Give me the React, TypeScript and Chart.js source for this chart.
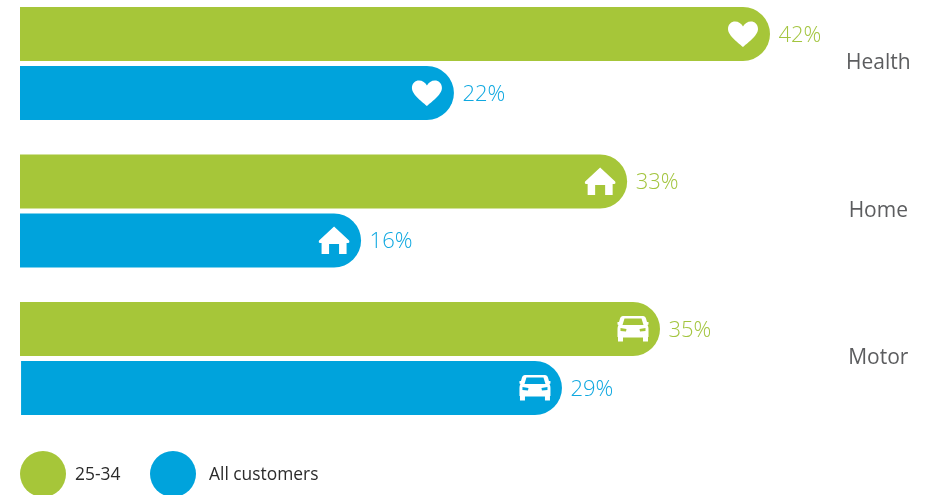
import React, { useEffect, useRef } from "react";
import { Chart, registerables } from "chart.js";

Chart.register(...registerables);

const categories = ["Health", "Home", "Motor"];
const shownYoung = ["42%", "33%", "35%"];
const shownAll = ["22%", "16%", "29%"];
// Drawn bar lengths (the infographic is not strictly to scale)
const youngLengths = [42, 34, 35.84];
const allLengths = [24.3, 19.1, 30.35];
const allStarts = [0, 0, 0.06];
const seriesNames = ["25-34", "All customers"];
const GREEN = "#A6C639";
const BLUE = "#00A3DC";
const LABEL_GREEN = "#A3C53F";
const LABEL_BLUE = "#0FA8E0";
const FONT = '"Open Sans", sans-serif';
const SHIFT = 30;

const heart = new Path2D(
  "M0 13 C-3 10 -15 2 -15 -5 C-15 -10 -11.5 -12.5 -8 -12.5 C-4.5 -12.5 -1.5 -10.5 0 -7.5 C1.5 -10.5 4.5 -12.5 8 -12.5 C11.5 -12.5 15 -10 15 -5 C15 2 3 10 0 13 Z"
);
const house = new Path2D(
  "M0 -14 L15 0 C15.5 1 15.5 2.5 14 2.5 L12.5 2.5 L12.5 13.5 L5 13.5 L5 3.5 L-5 3.5 L-5 13.5 L-12.5 13.5 L-12.5 2.5 L-14 2.5 C-15.5 2.5 -15.5 1 -15 0 Z"
);
const car = new Path2D(
  "M-10 -13 L10 -13 C11.5 -13 12.5 -12 13 -10.5 L14 -7 L15.5 -7 L15.5 -4.5 L14.5 -4 C15.5 -2 15.5 -1 15.5 1 L15.5 8 L15 8 L15 12.5 L10 12.5 L10 8.5 L-10 8.5 L-10 12.5 L-15 12.5 L-15 8 L-15.5 8 L-15.5 1 C-15.5 -1 -15.5 -2 -14.5 -4 L-15.5 -4.5 L-15.5 -7 L-14 -7 L-13 -10.5 C-12.5 -12 -11.5 -13 -10 -13 Z " +
    "M-8.5 -10.5 L-10.5 -4 L10.5 -4 L8.5 -10.5 Z " +
    "M-12.5 -1 L-12.5 2 L-7 2.5 L-6.5 0 Z M12.5 -1 L12.5 2 L7 2.5 L6.5 0 Z"
);
const icons = [heart, house, car];

const overlayPlugin = {
  id: "overlay",
  afterDatasetsDraw(chart: any) {
    const ctx = chart.ctx;
    ctx.save();
    const shown = [shownYoung, shownAll];
    const colors = [LABEL_GREEN, LABEL_BLUE];
    chart.data.datasets.forEach((_: any, d: number) => {
      chart.getDatasetMeta(d).data.forEach((bar: any, i: number) => {
        ctx.save();
        ctx.translate(bar.x - 27, bar.y);
        ctx.fillStyle = "#ffffff";
        ctx.fill(icons[i], "evenodd");
        ctx.restore();
        ctx.fillStyle = colors[d];
        ctx.font = `300 22px ${FONT}`;
        ctx.textAlign = "left";
        ctx.textBaseline = "middle";
        ctx.fillText(shown[d][i], bar.x + 8.5, bar.y + 1.5);
      });
    });
    // Legend
    const cy = 474 + SHIFT;
    const entries = [
      { cx: 43, tx: 75 },
      { cx: 173, tx: 209 },
    ];
    chart.data.datasets.forEach((ds: any, d: number) => {
      ctx.beginPath();
      ctx.arc(entries[d].cx, cy, 23, 0, Math.PI * 2);
      ctx.fillStyle = ds.backgroundColor;
      ctx.fill();
      ctx.fillStyle = "#2b2b2b";
      ctx.font = `400 17.4px ${FONT}`;
      ctx.textAlign = "left";
      ctx.textBaseline = "middle";
      ctx.fillText(ds.label, entries[d].tx, cy + 1);
    });
    ctx.restore();
  },
};

export default function App() {
  const ref = useRef<HTMLCanvasElement>(null);
  useEffect(() => {
    const chart = new Chart(ref.current!, {
      type: "bar",
      data: {
        labels: categories,
        datasets: [
          {
            label: seriesNames[0],
            data: youngLengths,
            backgroundColor: GREEN,
          },
          {
            label: seriesNames[1],
            data: allLengths.map((v, i) => [allStarts[i], v]),
            backgroundColor: BLUE,
          },
        ] as any,
      },
      plugins: [overlayPlugin],
      options: {
        indexAxis: "y",
        animation: false,
        responsive: false,
        events: [],
        layout: { padding: { left: 20, top: 19.75, bottom: 62.75, right: 0 } },
        datasets: {
          bar: {
            categoryPercentage: 0.8,
            barPercentage: 54 / 59,
            borderRadius: { topRight: 27, bottomRight: 27, topLeft: 0, bottomLeft: 0 },
            borderSkipped: false,
          },
        },
        plugins: { legend: { display: false }, tooltip: { enabled: false } },
        scales: {
          x: { display: false, min: 0, max: 46.2 },
          y: {
            position: "right",
            afterFit(scale: any) {
              scale.width = 85;
            },
            grid: { display: false },
            border: { display: false },
            ticks: {
              color: "#5c5d5f",
              font: { family: FONT, size: 21, weight: "500" },
              align: "center",
              crossAlign: "center",
              padding: -7,
              labelOffset: 0,
            },
          },
        },
      } as any,
    });
    return () => chart.destroy();
  }, []);
  return (
    <canvas
      ref={ref}
      width={930}
      height={495 + SHIFT}
      style={{ position: "absolute", left: 0, top: -SHIFT, display: "block" }}
    />
  );
}
